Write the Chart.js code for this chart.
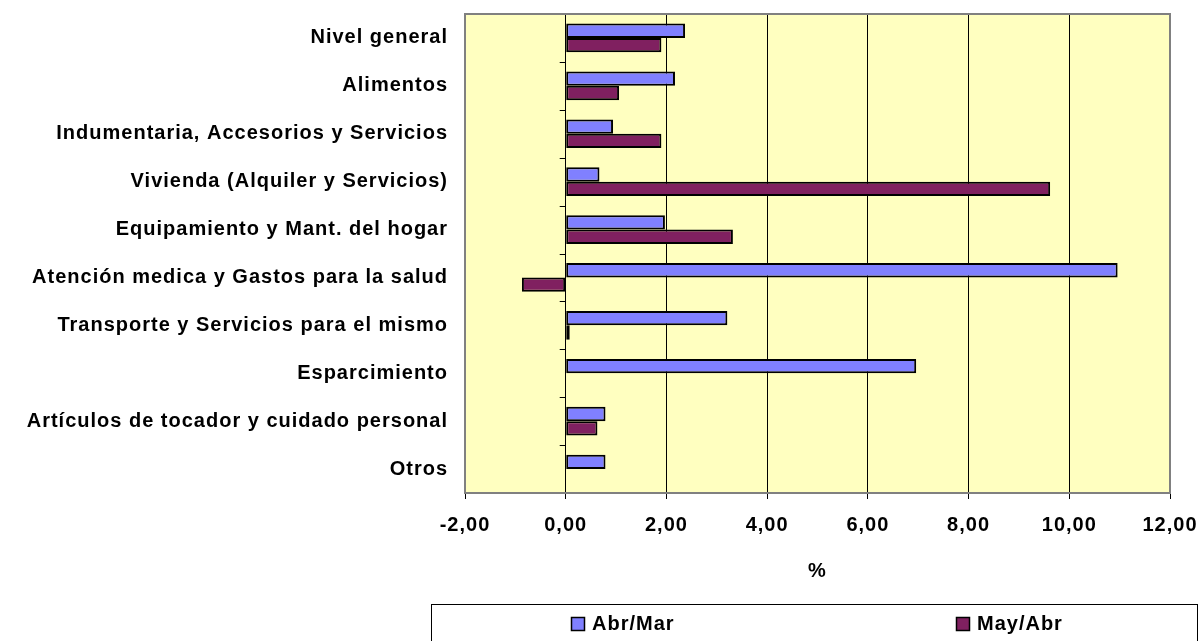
<!DOCTYPE html>
<html>
<head>
<meta charset="utf-8">
<script src="https://cdn.jsdelivr.net/npm/chart.js@4.4.1/dist/chart.umd.min.js"></script>
<style>
  html, body { margin: 0; padding: 0; background: #fff; }
  #wrap { width: 1201px; height: 641px; }
</style>
</head>
<body>
<div id="wrap"><canvas id="barChart" width="1201" height="641"></canvas></div>
<script>
// categories and values
const categories = [
    'Nivel general',
    'Alimentos',
    'Indumentaria, Accesorios y Servicios',
    'Vivienda (Alquiler y Servicios)',
    'Equipamiento y Mant. del hogar',
    'Atención medica y Gastos para la salud',
    'Transporte y Servicios para el mismo',
    'Esparcimiento',
    'Artículos de tocador y cuidado personal',
    'Otros'
];
const abrMar = [2.37, 2.17, 0.94, 0.67, 1.97, 10.96, 3.21, 6.96, 0.79, 0.79];
const mayAbr = [1.90, 1.06, 1.90, 9.62, 3.32, -0.87, 0.08, null, 0.63, null];
const seriesNames = ['Abr/Mar', 'May/Abr'];
const xTicks = [-2, 0, 2, 4, 6, 8, 10, 12];

const FONT = 'Liberation Sans, Arial, sans-serif';
const SPACING = '1px';

function fmt(v) {
    return v.toFixed(2).replace('.', ',');
}

// letter spacing for the wide Excel-like text
const spacingPlugin = {
    id: 'spacing',
    beforeUpdate(chart) { chart.ctx.letterSpacing = SPACING; },
    beforeLayout(chart) { chart.ctx.letterSpacing = SPACING; },
    beforeDraw(chart) { chart.ctx.letterSpacing = SPACING; }
};

// yellow plot area, grey frame, little ticks on the zero line, boxed legend
const plotPlugin = {
    id: 'plotArea',
    beforeDraw(chart) {
        const a = chart.chartArea, ctx = chart.ctx;
        ctx.save();
        ctx.fillStyle = '#FFFFC0';
        ctx.fillRect(a.left, a.top, a.right - a.left, a.bottom - a.top);
        ctx.restore();
    },
    afterDatasetsDraw(chart) {
        const a = chart.chartArea, ctx = chart.ctx;
        const x0 = chart.scales.x.getPixelForValue(0);
        const n = categories.length;
        const band = (a.bottom - a.top) / n;
        ctx.save();
        ctx.strokeStyle = '#000';
        ctx.lineWidth = 1;
        ctx.beginPath();
        for (let i = 0; i <= n; i++) {
            const y = Math.round(a.top + i * band) + 0.5;
            ctx.moveTo(x0 - 6, y);
            ctx.lineTo(x0, y);
        }
        ctx.stroke();
        ctx.strokeStyle = '#808080';
        ctx.lineWidth = 2;
        ctx.strokeRect(a.left, a.top, a.right - a.left, a.bottom - a.top);
        ctx.restore();
    },
    afterDraw(chart) {
        const ctx = chart.ctx;
        const left = 431, right = 1197, top = 604;
        const itemX = [571, 956];
        ctx.save();
        ctx.strokeStyle = '#000';
        ctx.lineWidth = 1;
        ctx.strokeRect(left + 0.5, top + 0.5, right - left, 50);
        ctx.font = 'bold 20px ' + FONT;
        ctx.textBaseline = 'middle';
        ctx.textAlign = 'left';
        chart.data.datasets.forEach((ds, i) => {
            const sx = itemX[i];
            const cy = 624;
            ctx.fillStyle = ds.backgroundColor;
            ctx.fillRect(sx, cy - 7, 14, 14);
            ctx.strokeStyle = '#000';
            ctx.lineWidth = 1.5;
            ctx.strokeRect(sx + 0.5, cy - 6.5, 13, 13);
            ctx.fillStyle = '#000';
            ctx.fillText(ds.label, sx + 21, cy);
        });
        ctx.restore();
    }
};

let ctx = document.getElementById('barChart').getContext('2d');

let myBarChart = new Chart(ctx, {
    type: 'bar',
    data: {
        labels: categories,
        datasets: [
            {
                label: seriesNames[0],
                data: abrMar,
                backgroundColor: '#8080FF',
                borderColor: '#000000',
                borderWidth: 2,
                borderSkipped: false
            },
            {
                label: seriesNames[1],
                data: mayAbr,
                backgroundColor: '#802060',
                borderColor: '#000000',
                borderWidth: 2,
                borderSkipped: false
            }
        ]
    },
    options: {
        indexAxis: 'y',
        responsive: false,
        animation: false,
        devicePixelRatio: 1,
        categoryPercentage: 0.6,
        barPercentage: 1.0,
        layout: {
            padding: { top: 14, right: 31, bottom: 58, left: 0 }
        },
        plugins: {
            legend: { display: false },
            tooltip: { enabled: false }
        },
        scales: {
            x: {
                min: -2,
                max: 12,
                afterBuildTicks(scale) {
                    scale.ticks = xTicks.map(v => ({ value: v }));
                },
                afterFit(scale) {
                    scale.paddingLeft = 0;
                    scale.paddingRight = 0;
                },
                border: { display: false },
                grid: {
                    color: '#000',
                    lineWidth: 1,
                    tickLength: 6,
                    drawTicks: true
                },
                ticks: {
                    color: '#000',
                    padding: 14,
                    maxRotation: 0,
                    font: { family: FONT, size: 20, weight: 'bold' },
                    callback: v => fmt(v)
                },
                title: {
                    display: true,
                    text: '%',
                    color: '#000',
                    padding: { top: 8, bottom: 0 },
                    font: { family: FONT, size: 20, weight: 'bold' }
                }
            },
            y: {
                border: { display: false },
                grid: { display: false },
                afterFit(scale) {
                    scale.width = 465;
                    scale.paddingTop = 0;
                    scale.paddingBottom = 0;
                },
                ticks: {
                    color: '#000',
                    padding: 9,
                    autoSkip: false,
                    font: { family: FONT, size: 20, weight: 'bold' }
                }
            }
        }
    },
    plugins: [spacingPlugin, plotPlugin]
});
</script>
</body>
</html>
